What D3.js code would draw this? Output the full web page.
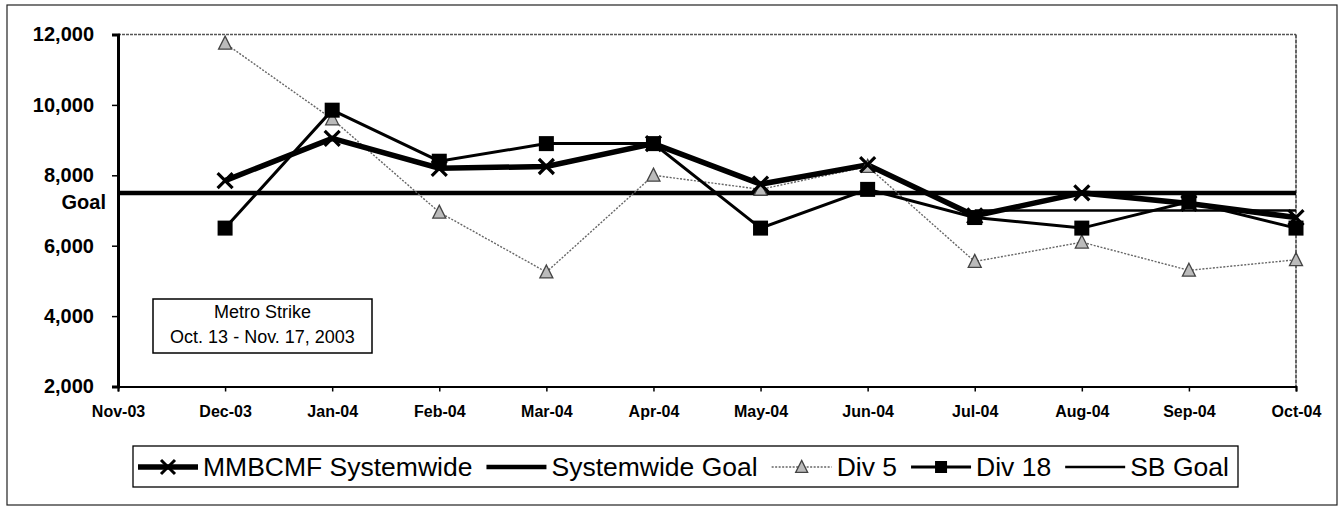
<!DOCTYPE html>
<html><head><meta charset="utf-8">
<script src="https://cdn.jsdelivr.net/npm/d3@7"></script>
<style>
html,body{margin:0;padding:0;background:#fff;}
svg{display:block;font-family:"Liberation Sans",Arial,sans-serif;}
</style></head>
<body>
<svg id="c" width="1341" height="510"></svg>
<script>
const months = ["Nov-03","Dec-03","Jan-04","Feb-04","Mar-04","Apr-04","May-04","Jun-04","Jul-04","Aug-04","Sep-04","Oct-04"];
const mmbcmf = [null, 7850, 9050, 8200, 8250, 8900, 7750, 8300, 6850, 7500, 7200, 6800];
const systemGoal = [7500, 7500, 7500, 7500, 7500, 7500, 7500, 7500, 7500, 7500, 7500, 7500];
const div5 = [null, 11750, 9600, 6950, 5250, 8000, 7600, 8250, 5550, 6100, 5300, 5600];
const div18 = [null, 6500, 9850, 8400, 8900, 8900, 6500, 7600, 6800, 6500, 7250, 6500];
const sbGoal = [null, null, null, null, null, null, null, null, 7000, 7000, 7000, 7000];
const yTicks = [2000, 4000, 6000, 8000, 10000, 12000];
const goalLabel = "Goal";
const legendLabels = ["MMBCMF Systemwide", "Systemwide Goal", "Div 5", "Div 18", "SB Goal"];
const noteLines = ["Metro Strike", "Oct. 13 - Nov. 17, 2003"];

const svg = d3.select("#c");
const L = 118, R = 1296, T = 34.5, B = 386.5;
const x = d3.scalePoint().domain(months).range([L, R]);
const y = d3.scaleLinear().domain([2000, 12000]).range([B, T]);

// outer border
svg.append("rect").attr("x", 7).attr("y", 5).attr("width", 1330).attr("height", 500)
  .attr("fill", "none").attr("stroke", "#222").attr("stroke-width", 1.2);

// plot frame top/right dotted
svg.append("line").attr("x1", L).attr("x2", R).attr("y1", T).attr("y2", T)
  .attr("stroke", "#555").attr("stroke-width", 1.5).attr("stroke-dasharray", "3,1");
svg.append("line").attr("x1", R).attr("x2", R).attr("y1", T).attr("y2", B)
  .attr("stroke", "#333").attr("stroke-width", 1.5).attr("stroke-dasharray", "4,1");

// axes
const yAxis = d3.axisLeft(y).tickValues(yTicks).tickSize(6).tickPadding(18)
  .tickFormat(d3.format(","));
const gy = svg.append("g").attr("transform", `translate(${L},0)`).call(yAxis);
gy.select(".domain").attr("stroke", "#000").attr("stroke-width", 3);
gy.selectAll(".tick line").attr("stroke", "#000").attr("stroke-width", 1.5);
gy.selectAll(".tick text").attr("font-size", 20).attr("font-weight", "bold")
  .attr("font-family", "Liberation Sans, Arial, sans-serif").attr("fill", "#000");

const xAxis = d3.axisBottom(x).tickSize(5).tickPadding(14);
const gx = svg.append("g").attr("transform", `translate(0,${B})`).call(xAxis);
gx.select(".domain").attr("stroke", "#000").attr("stroke-width", 2);
gx.selectAll(".tick line").attr("stroke", "#000").attr("stroke-width", 1.5);
gx.selectAll(".tick text").attr("font-size", 16).attr("font-weight", "bold")
  .attr("font-family", "Liberation Sans, Arial, sans-serif").attr("fill", "#000");

// Goal label
svg.append("text").attr("x", 106).attr("y", y(7500) + 16).attr("text-anchor", "end")
  .attr("font-size", 20).attr("font-weight", "bold").text(goalLabel);

const line = d3.line().defined(d => d.v != null).x(d => x(d.m)).y(d => y(d.v));
const pts = arr => months.map((m, i) => ({m, v: arr[i]}));

// series lines
svg.append("path").datum(pts(systemGoal)).attr("d", line)
  .attr("fill", "none").attr("stroke", "#000").attr("stroke-width", 4.5);
svg.append("path").datum(pts(sbGoal)).attr("d", line)
  .attr("fill", "none").attr("stroke", "#000").attr("stroke-width", 2.5);
svg.append("path").datum(pts(div5)).attr("d", line)
  .attr("fill", "none").attr("stroke", "#666").attr("stroke-width", 1.4).attr("stroke-dasharray", "2,1.5");
svg.append("path").datum(pts(div18)).attr("d", line)
  .attr("fill", "none").attr("stroke", "#000").attr("stroke-width", 3);
svg.append("path").datum(pts(mmbcmf)).attr("d", line)
  .attr("fill", "none").attr("stroke", "#000").attr("stroke-width", 5.5);

// markers
function tri(g, cx, cy, s) {
  g.append("path").attr("d", `M${cx},${cy - s*0.55}L${cx + s/2},${cy + s*0.45}L${cx - s/2},${cy + s*0.45}Z`)
    .attr("fill", "#bbb").attr("stroke", "#444").attr("stroke-width", 1.3);
}
function sq(g, cx, cy, s) {
  g.append("rect").attr("x", cx - s/2).attr("y", cy - s/2).attr("width", s).attr("height", s).attr("fill", "#000");
}
function xm(g, cx, cy, s, w) {
  g.append("path").attr("d", `M${cx - s/2},${cy - s/2}L${cx + s/2},${cy + s/2}M${cx + s/2},${cy - s/2}L${cx - s/2},${cy + s/2}`)
    .attr("stroke", "#000").attr("stroke-width", w).attr("fill", "none");
}
const mk = svg.append("g");
pts(div5).filter(d => d.v != null).forEach(d => tri(mk, x(d.m), y(d.v), 13));
pts(div18).filter(d => d.v != null).forEach(d => sq(mk, x(d.m), y(d.v), 15));
pts(mmbcmf).filter(d => d.v != null).forEach(d => xm(mk, x(d.m), y(d.v), 15, 3.2));

// note box
const nb = svg.append("g");
nb.append("rect").attr("x", 153).attr("y", 299).attr("width", 219).attr("height", 54)
  .attr("fill", "#fff").attr("stroke", "#000").attr("stroke-width", 1.5);
nb.append("text").attr("x", 262.5).attr("y", 318).attr("text-anchor", "middle").attr("font-size", 18).text(noteLines[0]);
nb.append("text").attr("x", 262.5).attr("y", 343).attr("text-anchor", "middle").attr("font-size", 18).text(noteLines[1]);

// legend
const lg = svg.append("g");
lg.append("rect").attr("x", 133).attr("y", 446).attr("width", 1105).attr("height", 41)
  .attr("fill", "#fff").attr("stroke", "#000").attr("stroke-width", 1.3);
const ly = 467, symW = 60, gapS = 5, gapI = 14;
const styles = [
  {w: 5.5, c: "#000", dash: null, m: "x"},
  {w: 4.5, c: "#000", dash: null, m: null},
  {w: 1.4, c: "#666", dash: "2,1.5", m: "tri"},
  {w: 3, c: "#000", dash: null, m: "sq"},
  {w: 2.5, c: "#000", dash: null, m: null}
];
let cx = 138;
legendLabels.forEach((lab, i) => {
  const s = styles[i];
  lg.append("line").attr("x1", cx).attr("x2", cx + symW).attr("y1", ly).attr("y2", ly)
    .attr("stroke", s.c).attr("stroke-width", s.w).attr("stroke-dasharray", s.dash);
  const mx = cx + symW / 2;
  if (s.m === "x") xm(lg, mx, ly, 14, 3);
  if (s.m === "tri") tri(lg, mx, ly, 12);
  if (s.m === "sq") sq(lg, mx, ly, 12);
  const t = lg.append("text").attr("x", cx + symW + gapS).attr("y", ly + 9).attr("font-size", 26.5).text(lab);
  cx += symW + gapS + t.node().getComputedTextLength() + gapI;
});
</script>
</body></html>
